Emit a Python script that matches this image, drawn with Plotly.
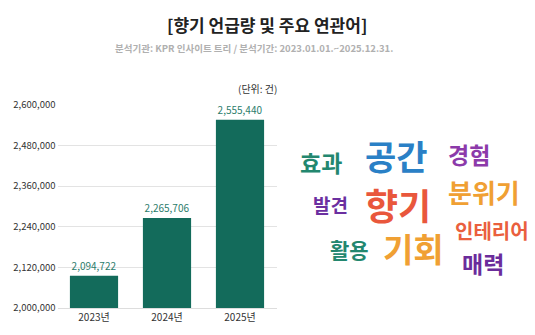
import plotly.graph_objects as go

# ---- data ----
years = ["2023년", "2024년", "2025년"]
mentions = [2094722, 2265706, 2555440]
y_ticks = [2000000, 2120000, 2240000, 2360000, 2480000, 2600000]

words = ["효과", "공간", "경험", "분위기", "발견", "향기", "인테리어", "활용", "기회", "매력"]

# ---- word-cloud layout (pixel centres, size, colour) ----
W, H = 535, 335
word_layout = {
    "효과": (321, 161, 23, "#23876f"),
    "공간": (396, 154, 34, "#2a80c6"),
    "경험": (469, 152, 23, "#8c3aaa"),
    "분위기": (484, 191, 26, "#f0a033"),
    "발견": (330, 205, 19, "#6b2fa0"),
    "향기": (398, 205, 36, "#e9573c"),
    "인테리어": (492, 232, 20, "#ea5f3e"),
    "활용": (349, 252, 21, "#23876f"),
    "기회": (413, 250, 33, "#f0a033"),
    "매력": (483, 266, 23, "#6b2c9b"),
}

FONT = "Noto Sans CJK KR"

fig = go.Figure()
fig.add_trace(go.Bar(
    x=years, y=mentions,
    marker=dict(color="#136b5b", line=dict(width=0)),
    text=[f"{v:,}" for v in mentions],
    textposition="outside",
    textfont=dict(color="#2d7d6c", size=10, family=FONT),
    cliponaxis=False,
    hoverinfo="skip",
))

annotations = [
    dict(text="<b>[향기 언급량 및 주요 연관어]</b>", x=267 / W, y=1 - 17 / H,
         xref="paper", yref="paper", showarrow=False,
         font=dict(size=17, color="#222222", family=FONT), xanchor="center", yanchor="middle"),
    dict(text="<b>분석기관: KPR 인사이트 트리 / 분석기간: 2023.01.01.~2025.12.31.</b>",
         x=254 / W, y=1 - 42 / H, xref="paper", yref="paper", showarrow=False,
         font=dict(size=9.5, color="#b0b0b0", family=FONT), xanchor="center", yanchor="middle"),
    dict(text="(단위: 건)", x=279 / W, y=1 - 84 / H, xref="paper", yref="paper",
         showarrow=False, font=dict(size=10, color="#333333", family=FONT),
         xanchor="right", yanchor="middle"),
]
for w in words:
    px, py, sz, col = word_layout[w]
    annotations.append(dict(
        text=f"<b>{w}</b>", x=px / W, y=1 - py / H, xref="paper", yref="paper",
        showarrow=False, font=dict(size=sz, color=col, family=FONT),
        xanchor="center", yanchor="middle"))

fig.update_layout(
    width=W, height=H,
    margin=dict(l=0, r=0, t=0, b=0),
    paper_bgcolor="white", plot_bgcolor="white",
    showlegend=False,
    bargap=0.34,
    font=dict(family=FONT, color="#333333"),
    xaxis=dict(domain=[57.5 / W, 276.5 / W], showgrid=False, showline=True,
               linecolor="#dddddd", linewidth=1, ticks="",
               tickfont=dict(size=10, color="#333333", family=FONT), fixedrange=True),
    yaxis=dict(domain=[1 - 313 / H, 1 - 101 / H], range=[2000000, 2600000],
               tickvals=y_ticks, ticktext=[f"{v:,}" for v in y_ticks],
               showgrid=True, gridcolor="#e3e3e3", gridwidth=1, zeroline=False,
               showline=False, ticks="", ticklabelstandoff=1,
               tickfont=dict(size=9.5, color="#333333", family=FONT), fixedrange=True),
    annotations=annotations,
)

fig.write_html("out.html")
